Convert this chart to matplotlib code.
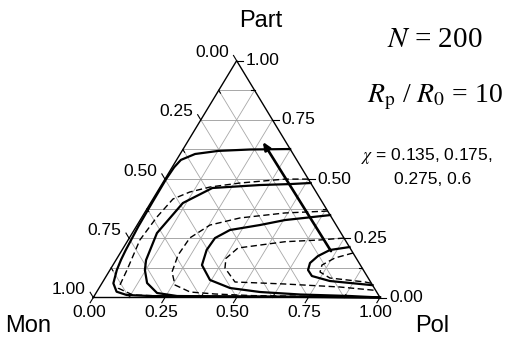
import numpy as np
import matplotlib
matplotlib.use("Agg")
import matplotlib.pyplot as plt

# =========================
# Data (ternary fractions: Pol, Part; Mon = 1 - Pol - Part)
# =========================
# binodals (solid), chi = 0.6, 0.275, 0.175, 0.135 from outside in
s1_pol = [0.373, 0.234, 0.126, 0.052, 0.015, 0.007, 0.004, 0.005, 0.007, 0.010, 0.013, 0.017, 0.024, 0.040, 0.069, 0.111, 0.2, 0.5, 0.8, 1.0]
s1_part = [0.627, 0.625, 0.619, 0.606, 0.581, 0.55, 0.50, 0.40, 0.30, 0.25, 0.20, 0.16, 0.116, 0.060, 0.0245, 0.0106, 0.006, 0.004, 0.002, 0.0]

s2_pol = [0.5165, 0.447, 0.344, 0.184, 0.113, 0.086, 0.105, 0.122, 0.157, 0.213, 0.289, 0.5, 0.8, 1.0]
s2_part = [0.4835, 0.479, 0.475, 0.4624, 0.399, 0.272, 0.158, 0.116, 0.0612, 0.019, 0.0063, 0.004, 0.002, 0.0]

s3_pol = [0.652, 0.505, 0.428, 0.334, 0.299, 0.295, 0.3105, 0.370, 0.457, 0.570, 0.715, 0.892, 1.0]
s3_part = [0.348, 0.327, 0.306, 0.285, 0.251, 0.2006, 0.137, 0.074, 0.040, 0.0232, 0.0127, 0.0063, 0.0]

s4_pol = [0.787, 0.725, 0.696, 0.683, 0.691, 0.717, 0.79, 0.948]
s4_part = [0.213, 0.2006, 0.175, 0.1457, 0.116, 0.0908, 0.0697, 0.052]

# spinodals (dashed)
d1_pol = [0.5, 0.418, 0.270, 0.174, 0.114, 0.070, 0.052, 0.041, 0.0595, 0.068, 0.133, 0.25, 0.5, 0.8, 1.0]
d1_part = [0.5, 0.5, 0.4835, 0.4666, 0.4455, 0.416, 0.340, 0.243, 0.116, 0.039, 0.0106, 0.006, 0.004, 0.002, 0.0]

d2_pol = [0.635, 0.490, 0.344, 0.254, 0.211, 0.206, 0.2207, 0.2586, 0.326, 0.417, 0.55, 0.8, 1.0]
d2_part = [0.365, 0.357, 0.336, 0.306, 0.2517, 0.1795, 0.1077, 0.0528, 0.0232, 0.0148, 0.008, 0.004, 0.0]

d3_pol = [0.749, 0.669, 0.551, 0.400, 0.38, 0.397, 0.4615, 0.640, 0.838, 0.97]
d3_part = [0.251, 0.243, 0.2356, 0.209, 0.165, 0.1246, 0.0655, 0.057, 0.0443, 0.03]

d4_pol = [0.812, 0.759, 0.729, 0.737, 0.784, 0.915, 0.94]
d4_part = [0.188, 0.1668, 0.137, 0.1077, 0.0823, 0.0655, 0.06]

# line through the critical points (arrow: increasing chi)
crit_pol = [0.731, 0.263]
crit_part = [0.196, 0.657]

tick_vals = [0.0, 0.25, 0.5, 0.75, 1.0]
tick_labels = ["0.00", "0.25", "0.50", "0.75", "1.00"]
chi_line1 = "$\\chi$ = 0.135, 0.175,"
chi_line2 = "0.275, 0.6"

plt.rcParams["font.family"] = ["Liberation Sans", "DejaVu Sans"]
plt.rcParams["mathtext.fontset"] = "stix"


def tern(pol, part):
    pol = np.asarray(pol, dtype=float)
    part = np.asarray(part, dtype=float)
    return pol + part / 2.0, part


fig = plt.figure(figsize=(5.11, 3.37), dpi=100)
ax = fig.add_axes([0, 0, 1, 1])
ax.set_xlim(-0.3254, 1.4569)
ax.set_ylim(-0.1668, 1.2563)
ax.axis("off")

# grid
grid_c = "#a8a8a8"
for k in range(1, 8):
    c = k / 8
    x, y = tern([0, 1 - c], [c, c])
    ax.plot(x, y, color="#999999", lw=0.6, zorder=1)
    x, y = tern([c, c], [0, 1 - c])
    ax.plot(x, y, color=grid_c, lw=0.6, zorder=1)
    x, y = tern([1 - c, 0], [0, 1 - c])
    ax.plot(x, y, color=grid_c, lw=0.6, zorder=1)

# frame
x, y = tern([0, 1, 0, 0], [0, 0, 1, 0])
ax.plot(x, y, color="black", lw=1.0, zorder=3)

# ticks (minor inward, major outward)
for k in range(9):
    c = k / 8
    major = k % 2 == 0
    d = 0.022 if major else -0.012
    # left axis (Mon)
    x, y = tern([0, -d], [1 - c, 1 - c + d])
    ax.plot(x, y, color="black", lw=0.8, zorder=3)
    # right axis (Part)
    x, y = tern([1 - c, 1 - c + d], [c, c])
    ax.plot(x, y, color="black", lw=0.8, zorder=3)
    # bottom axis (Pol)
    x, y = tern([c, c], [0, -d])
    ax.plot(x, y, color="black", lw=0.8, zorder=3)

for v, lab in zip(tick_vals, tick_labels):
    x, y = tern([0], [1 - v])
    ax.annotate(lab, (x[0], y[0]), xytext=(-8, 8), textcoords="offset pixels",
                ha="right", va="center", fontsize=12.5)
    x, y = tern([1 - v], [v])
    ax.annotate(lab, (x[0], y[0]), xytext=(9, 0), textcoords="offset pixels",
                ha="left", va="center", fontsize=12.5)
    x, y = tern([v], [0])
    ax.annotate(lab, (x[0], y[0]), xytext=(-4, -15), textcoords="offset pixels",
                ha="center", va="center", fontsize=12.5)

# curves
for pol, part in [(s1_pol, s1_part), (s2_pol, s2_part), (s3_pol, s3_part), (s4_pol, s4_part)]:
    x, y = tern(pol, part)
    ax.plot(x, y, color="black", lw=1.6, zorder=5, solid_joinstyle="round")
for pol, part in [(d1_pol, d1_part), (d2_pol, d2_part), (d3_pol, d3_part), (d4_pol, d4_part)]:
    x, y = tern(pol, part)
    ax.plot(x, y, color="black", lw=1.0, ls=(0, (4.5, 2.5)), zorder=4)

x, y = tern(crit_pol, crit_part)
ax.annotate("", xy=(x[1], y[1]), xytext=(x[0], y[0]),
            arrowprops=dict(arrowstyle="-|>,head_length=0.45,head_width=0.2",
                            color="black", lw=1.9, shrinkA=0, shrinkB=0), zorder=6)

# corner labels
fig.text(261 / 511, 1 - 21 / 337, "Part", ha="center", va="center", fontsize=17)
fig.text(28 / 511, 1 - 326 / 337, "Mon", ha="center", va="center", fontsize=17)
fig.text(432 / 511, 1 - 326 / 337, "Pol", ha="center", va="center", fontsize=17)

fig.text(435 / 511, 1 - 40 / 337, "$N$ = 200", ha="center", va="center",
         fontsize=21, family="Liberation Serif")
fig.text(435 / 511, 1 - 97 / 337, "$R_\\mathrm{p}$ / $R_\\mathrm{0}$ = 10", ha="center",
         va="center", fontsize=20, family="Liberation Serif")
fig.text(361 / 511, 1 - 156 / 337, chi_line1, ha="left", va="center", fontsize=12.5)
fig.text(433 / 511, 1 - 180 / 337, chi_line2, ha="center", va="center", fontsize=12.5)

fig.savefig("out.png", dpi=100)
